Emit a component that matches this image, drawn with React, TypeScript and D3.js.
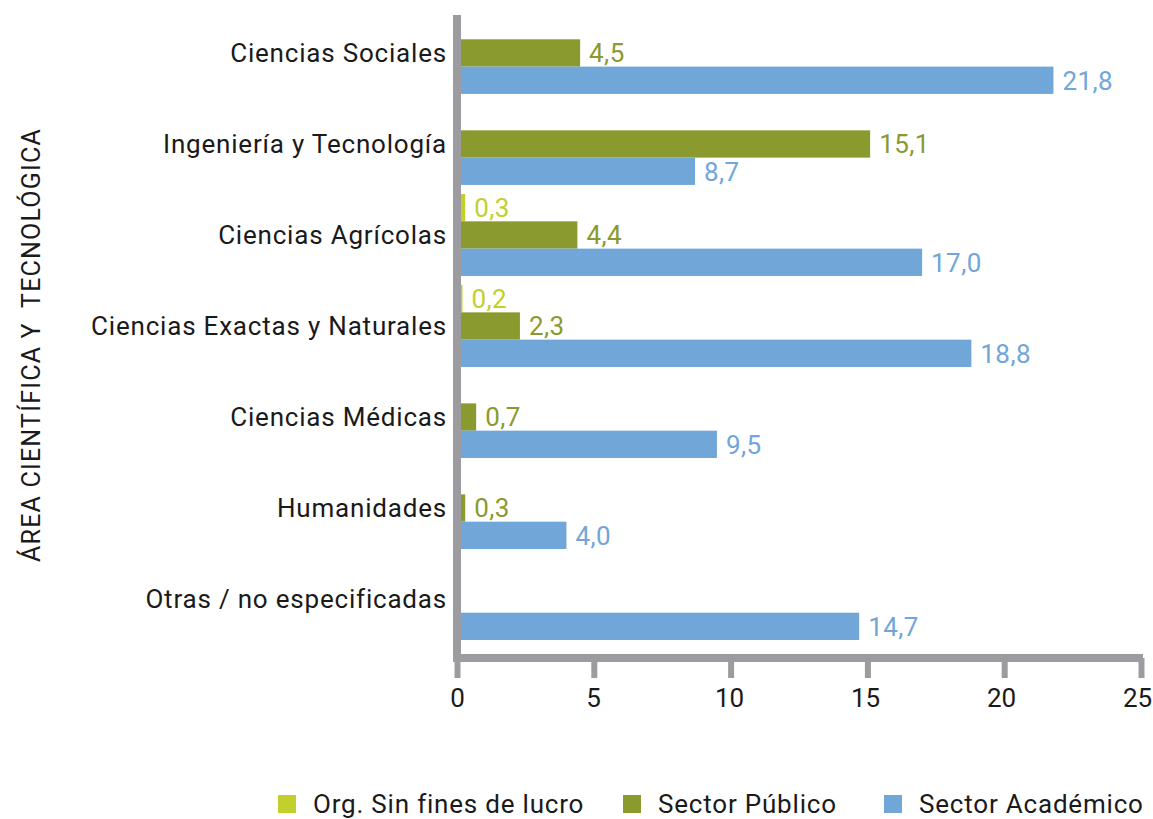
import React, { useEffect, useRef } from "react";
import * as d3 from "d3";

// áreas (de arriba hacia abajo)
const categories = [
  "Ciencias Sociales",
  "Ingeniería y Tecnología",
  "Ciencias Agrícolas",
  "Ciencias Exactas y Naturales",
  "Ciencias Médicas",
  "Humanidades",
  "Otras / no especificadas",
];
const seriesNames = ["Org. Sin fines de lucro", "Sector Público", "Sector Académico"];
const nonProfit = [null, null, 0.3, 0.2, null, null, null];
const publicSector = [4.5, 15.1, 4.4, 2.3, 0.7, 0.3, null];
const academic = [21.8, 8.7, 17.0, 18.8, 9.5, 4.0, 14.7];
const xTicks = [0, 5, 10, 15, 20, 25];
const axisTitle = "ÁREA CIENTÍFICA Y  TECNOLÓGICA";

const colors = ["#c3cf2c", "#8b9a2f", "#70a6d8"];
const axisGray = "#9c9b9f";
const FONT = "Roboto, 'DejaVu Sans', sans-serif";

const App = () => {
  const ref = useRef<SVGSVGElement>(null);

  useEffect(() => {
    const width = 1153;
    const height = 819;
    const svg = d3.select(ref.current);
    svg.selectAll("*").remove();
    svg.attr("width", width).attr("height", height);

    const values = [nonProfit, publicSector, academic];
    const rows = categories.map((c, i) => ({
      cat: c,
      items: seriesNames.map((s, j) => ({ series: s, idx: j, value: values[j][i] })),
    }));

    const x = d3.scaleLinear().domain([0, 25]).range([457, 1141]);
    const y = d3.scaleBand().domain(categories).range([12, 640]).paddingInner(0.1);
    const yInner = d3.scaleBand().domain(seriesNames).range([0, y.bandwidth()]);

    const fmt = (v: number) => d3.format(".1f")(v).replace(".", ",");

    // barras
    const groups = svg
      .append("g")
      .selectAll("g")
      .data(rows)
      .enter()
      .append("g")
      .attr("transform", (d) => `translate(0, ${y(d.cat)})`);

    const items = groups
      .selectAll("g.item")
      .data((d) => d.items.filter((it) => it.value != null))
      .enter()
      .append("g")
      .attr("class", "item");

    items
      .append("rect")
      .attr("x", x(0))
      .attr("y", (d) => yInner(d.series)!)
      .attr("width", (d) => x(d.value as number) - x(0))
      .attr("height", yInner.bandwidth())
      .attr("fill", (d) => colors[d.idx]);

    items
      .append("text")
      .attr("x", (d) => x(d.value as number) + 9)
      .attr("y", (d) => yInner(d.series)! + yInner.bandwidth() / 2)
      .attr("dy", "0.36em")
      .attr("font-family", FONT)
      .attr("font-size", 26)
      .attr("letter-spacing", 0.4)
      .attr("fill", (d) => colors[d.idx])
      .text((d) => fmt(d.value as number));

    // etiquetas de categoría
    svg
      .append("g")
      .selectAll("text")
      .data(categories)
      .enter()
      .append("text")
      .attr("x", 447)
      .attr("y", (d) => y(d)! + y.bandwidth() / 2)
      .attr("dy", "0.36em")
      .attr("text-anchor", "end")
      .attr("font-family", FONT)
      .attr("font-size", 26)
      .attr("letter-spacing", 0.8)
      .attr("fill", "#1a1a1a")
      .text((d) => d);

    // eje x
    const xAxis = svg
      .append("g")
      .attr("transform", "translate(0, 658)")
      .call(d3.axisBottom(x).tickValues(xTicks).tickSize(20).tickSizeOuter(0).tickPadding(11));
    xAxis.select(".domain").remove();
    xAxis.selectAll(".tick line").attr("stroke", axisGray).attr("stroke-width", 6);
    xAxis
      .selectAll(".tick text")
      .attr("font-family", FONT)
      .attr("font-size", 26)
      .attr("dx", (d, i) => -i * 0.8)
      .attr("fill", "#1a1a1a");
    svg
      .append("line")
      .attr("x1", 453)
      .attr("x2", 1143)
      .attr("y1", 658)
      .attr("y2", 658)
      .attr("stroke", axisGray)
      .attr("stroke-width", 8);

    // eje y
    svg
      .append("line")
      .attr("x1", x(0))
      .attr("x2", x(0))
      .attr("y1", 15)
      .attr("y2", 662)
      .attr("stroke", axisGray)
      .attr("stroke-width", 8);

    svg
      .append("text")
      .attr("transform", "translate(40, 345) rotate(-90)")
      .attr("text-anchor", "middle")
      .attr("font-family", FONT)
      .attr("font-size", 25)
      .attr("letter-spacing", 1.2)
      .attr("fill", "#1a1a1a")
      .style("white-space", "pre")
      .text(axisTitle);

    // leyenda
    const legendX = [278, 623, 884];
    const legend = svg
      .append("g")
      .selectAll("g")
      .data(seriesNames)
      .enter()
      .append("g")
      .attr("transform", (d, i) => `translate(${legendX[i]}, 795)`);
    legend
      .append("rect")
      .attr("width", 18)
      .attr("height", 18)
      .attr("fill", (d, i) => colors[i]);
    legend
      .append("text")
      .attr("x", 35)
      .attr("y", 9)
      .attr("dy", "0.36em")
      .attr("font-family", FONT)
      .attr("font-size", 26)
      .attr("letter-spacing", 0.8)
      .attr("fill", "#1a1a1a")
      .text((d) => d);
  }, []);

  return (
    <div style={{ position: "absolute", left: 0, top: 0 }}>
      <svg ref={ref} />
    </div>
  );
};

export default App;
